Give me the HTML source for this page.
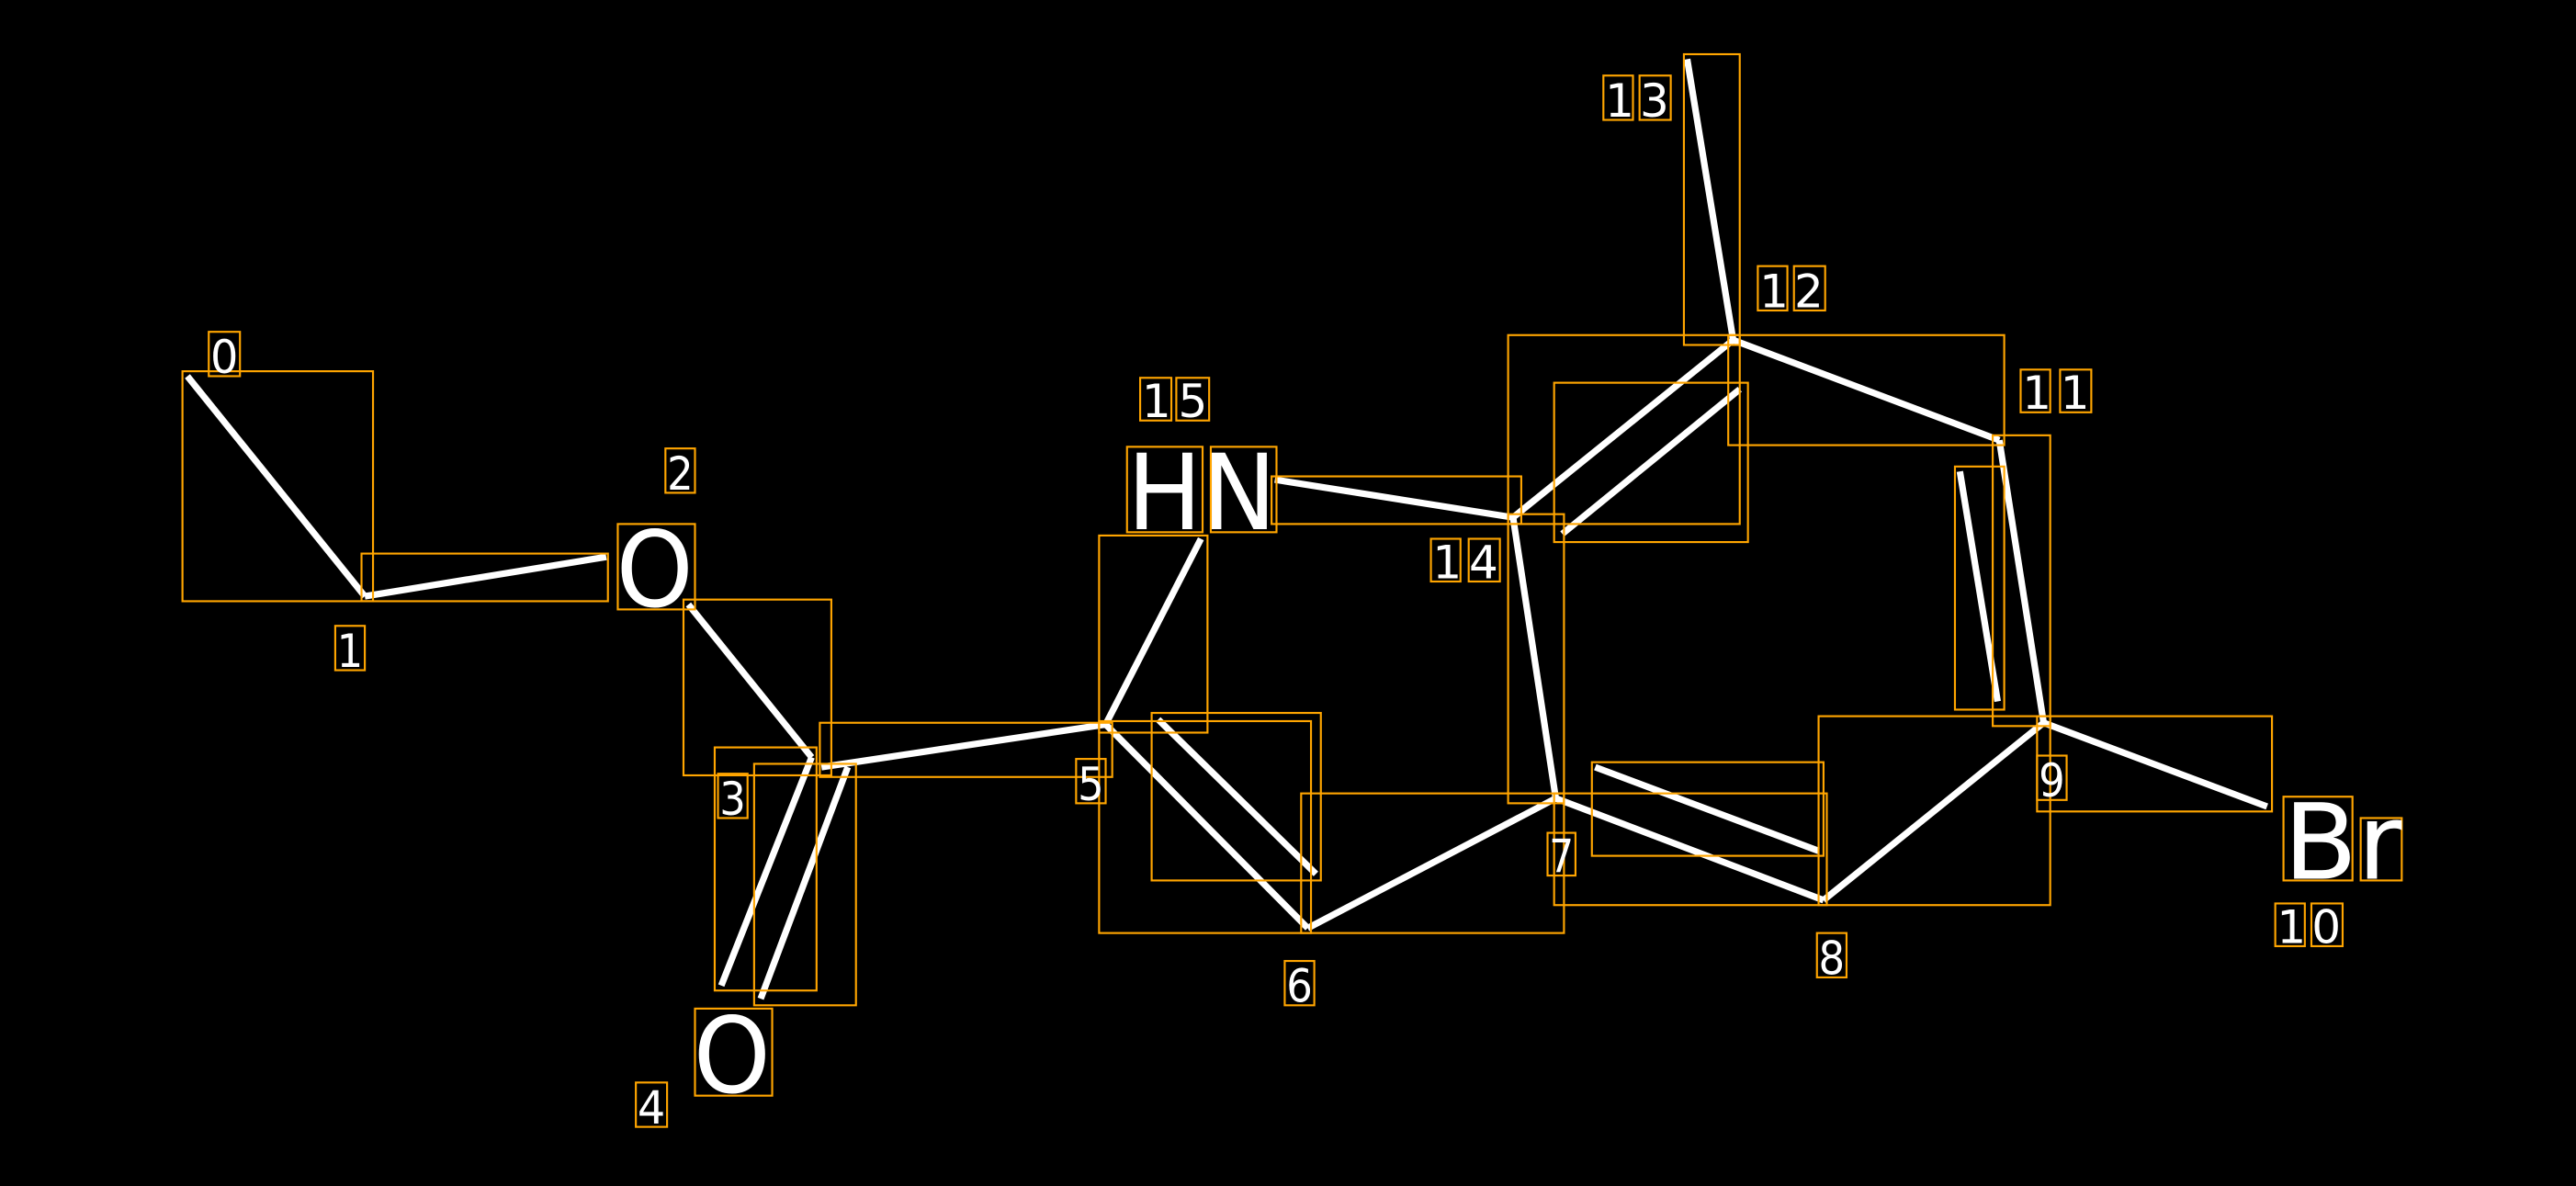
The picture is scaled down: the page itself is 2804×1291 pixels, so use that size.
<!DOCTYPE html>
<html><head><meta charset="utf-8"><style>
html,body{margin:0;padding:0;background:#000;}
svg{display:block}
text{font-family:"DejaVu Sans","Liberation Sans",sans-serif;fill:#fff}
</style></head><body>
<svg width="2804" height="1291" viewBox="0 0 1568 722" xmlns="http://www.w3.org/2000/svg">
<rect width="1568" height="722" fill="#000"/>
<g stroke="#fff" stroke-width="4" fill="none" stroke-linecap="butt">
<line x1="114" y1="229" x2="222" y2="363"/>
<line x1="222" y1="363" x2="369" y2="339"/>
<line x1="419" y1="368" x2="494" y2="461"/>
<line x1="494" y1="461" x2="439" y2="600"/>
<line x1="516" y1="467" x2="463" y2="608"/>
<line x1="500" y1="467" x2="673" y2="441"/>
<line x1="673" y1="441" x2="731" y2="328"/>
<line x1="776" y1="292" x2="921" y2="315"/>
<line x1="921" y1="315" x2="1055" y2="207"/>
<line x1="951" y1="325" x2="1059" y2="237"/>
<line x1="1055" y1="207" x2="1027" y2="36"/>
<line x1="1055" y1="207" x2="1217" y2="268"/>
<line x1="1217" y1="268" x2="1244" y2="440"/>
<line x1="1193" y1="287" x2="1216" y2="427"/>
<line x1="1244" y1="440" x2="1380" y2="491"/>
<line x1="1244" y1="440" x2="1110" y2="548"/>
<line x1="1110" y1="548" x2="947" y2="486"/>
<line x1="971" y1="467" x2="1107" y2="518"/>
<line x1="947" y1="486" x2="921" y2="315"/>
<line x1="947" y1="486" x2="796" y2="565"/>
<line x1="796" y1="565" x2="673" y2="441"/>
<line x1="705" y1="438" x2="801" y2="532"/>
</g>
<g stroke="#FFA500" stroke-width="1.2" fill="none">
<rect x="111" y="226" width="116" height="140"/>
<rect x="220" y="337" width="150" height="29"/>
<rect x="376" y="319" width="47" height="52"/>
<rect x="416" y="365" width="90" height="107"/>
<rect x="435" y="455" width="62" height="148"/>
<rect x="459" y="465" width="62" height="147"/>
<rect x="499" y="440" width="178" height="33"/>
<rect x="423" y="614" width="47" height="53"/>
<rect x="669" y="326" width="66" height="120"/>
<rect x="701" y="434" width="103" height="102"/>
<rect x="669" y="439" width="129" height="129"/>
<rect x="792" y="483" width="160" height="85"/>
<rect x="946" y="483" width="166" height="68"/>
<rect x="969" y="464" width="141" height="57"/>
<rect x="1107" y="436" width="141" height="115"/>
<rect x="1240" y="436" width="143" height="58"/>
<rect x="1213" y="265" width="35" height="177"/>
<rect x="1190" y="284" width="30" height="148"/>
<rect x="1052" y="204" width="168" height="67"/>
<rect x="1025" y="33" width="34" height="177"/>
<rect x="918" y="204" width="141" height="115"/>
<rect x="946" y="233" width="118" height="97"/>
<rect x="774" y="290" width="152" height="29"/>
<rect x="918" y="313" width="34" height="176"/>
<rect x="686" y="272" width="46" height="52"/>
<rect x="737" y="272" width="40" height="52"/>
<rect x="1390" y="485" width="42" height="51"/>
<rect x="1437" y="498" width="25" height="38"/>
<rect x="127" y="202" width="19" height="27"/>
<rect x="204" y="381" width="18" height="27"/>
<rect x="405" y="273" width="18" height="27"/>
<rect x="437" y="471" width="18" height="27"/>
<rect x="387" y="659" width="19" height="27"/>
<rect x="655" y="462" width="18" height="27"/>
<rect x="782" y="585" width="18" height="27"/>
<rect x="942" y="507" width="17" height="26"/>
<rect x="1106" y="568" width="18" height="27"/>
<rect x="1240" y="460" width="18" height="27"/>
<rect x="1385" y="550" width="18" height="26"/><rect x="1407" y="550" width="19" height="26"/>
<rect x="1230" y="225" width="18" height="26"/><rect x="1254" y="225" width="19" height="26"/>
<rect x="1070" y="162" width="18" height="27"/><rect x="1092" y="162" width="19" height="27"/>
<rect x="976" y="46" width="18" height="27"/><rect x="998" y="46" width="19" height="27"/>
<rect x="871" y="328" width="18" height="26"/><rect x="894" y="328" width="19" height="26"/>
<rect x="694" y="230" width="19" height="26"/><rect x="716" y="230" width="20" height="26"/>
</g>
<g font-size="28">
<text x="128" y="227" textLength="17" lengthAdjust="spacingAndGlyphs">0</text>
<text x="205" y="406" textLength="16" lengthAdjust="spacingAndGlyphs">1</text>
<text x="406" y="298" textLength="16" lengthAdjust="spacingAndGlyphs">2</text>
<text x="438" y="496" textLength="16" lengthAdjust="spacingAndGlyphs">3</text>
<text x="388" y="684" textLength="17" lengthAdjust="spacingAndGlyphs">4</text>
<text x="656" y="487" textLength="16" lengthAdjust="spacingAndGlyphs">5</text>
<text x="783" y="610" textLength="16" lengthAdjust="spacingAndGlyphs">6</text>
<text x="943" y="531" textLength="15" lengthAdjust="spacingAndGlyphs">7</text>
<text x="1107" y="593" textLength="16" lengthAdjust="spacingAndGlyphs">8</text>
<text x="1241" y="485" textLength="16" lengthAdjust="spacingAndGlyphs">9</text>
<text x="1386" y="574" textLength="39" lengthAdjust="spacing">10</text>
<text x="1231" y="249" textLength="41" lengthAdjust="spacing">11</text>
<text x="1071" y="187" textLength="39" lengthAdjust="spacing">12</text>
<text x="977" y="71" textLength="39" lengthAdjust="spacing">13</text>
<text x="872" y="352" textLength="40" lengthAdjust="spacing">14</text>
<text x="695" y="254" textLength="40" lengthAdjust="spacing">15</text>
</g>
<g font-size="64">
<text x="375" y="369" textLength="47" lengthAdjust="spacingAndGlyphs">O</text>
<text x="422" y="665" textLength="47" lengthAdjust="spacingAndGlyphs">O</text>
<text x="686" y="322" textLength="91" lengthAdjust="spacingAndGlyphs">HN</text>
<text x="1390" y="535" textLength="72" lengthAdjust="spacingAndGlyphs">Br</text>
</g>
</svg>
</body></html>
